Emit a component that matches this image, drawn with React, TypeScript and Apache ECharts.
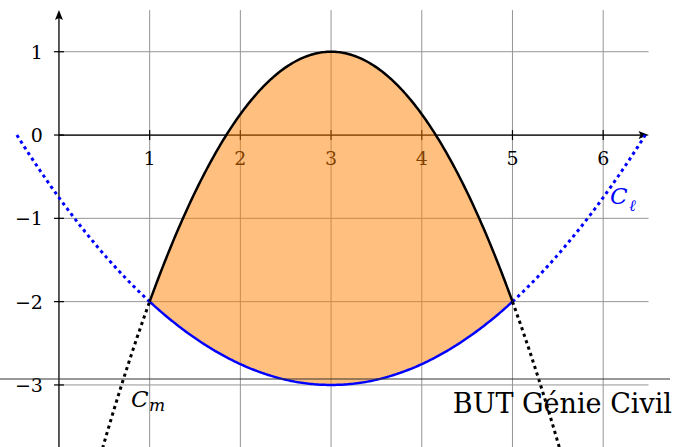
import React, { useEffect, useRef } from 'react';
import * as echarts from 'echarts';

// Visible window of the plane
const X_RANGE = [-0.65, 6.858];
const Y_RANGE = [-3.745, 1.621];

// Grid / ticks
const X_TICKS = [1, 2, 3, 4, 5, 6];
const X_LABELS = ['1', '2', '3', '4', '5', '6'];
const Y_TICKS = [1, 0, -1, -2, -3];
const Y_LABELS = ['1', '0', '−1', '−2', '−3'];
const AXIS_END = [6.5, 1.5];

// C_m : downward parabola given by its vertex and one point
const CM_VERTEX = [3, 1];
const CM_POINT = [1, -2];
// C_l : upward parabola given by its vertex and one point
const CL_VERTEX = [3, -3];
const CL_POINT = [1, -2];

// Domains
const SOLID_RANGE = [1, 5];
const CM_DOTTED_LEFT = [0.3, 1];
const CM_DOTTED_RIGHT = [5, 5.7];
const CL_DOTTED_LEFT = [3 - 2 * Math.sqrt(3), 1];
const CL_DOTTED_RIGHT = [5, 3 + 2 * Math.sqrt(3)];

const FONT = 'DejaVu Serif';

function parabola(vertex: number[], point: number[]) {
  const [h, k] = vertex;
  const a = (point[1] - k) / Math.pow(point[0] - h, 2);
  return (x: number) => a * Math.pow(x - h, 2) + k;
}

function sample(f: (x: number) => number, range: number[], step = 0.02) {
  const out: number[][] = [];
  const n = Math.max(1, Math.ceil((range[1] - range[0]) / step));
  for (let i = 0; i <= n; i++) {
    const x = range[0] + ((range[1] - range[0]) * i) / n;
    out.push([x, f(x)]);
  }
  return out;
}

const cm = parabola(CM_VERTEX, CM_POINT);
const cl = parabola(CL_VERTEX, CL_POINT);

function curve(data: number[][], color: string, dotted: boolean) {
  return {
    type: 'line',
    data,
    symbol: 'none',
    showSymbol: false,
    silent: true,
    z: 5,
    clip: true,
    lineStyle: {
      color,
      width: dotted ? 3 : 2.5,
      type: dotted ? [3.2, 3.6] : 'solid',
      cap: 'butt',
    },
  };
}

export default function App() {
  const ref = useRef<HTMLDivElement>(null);

  useEffect(() => {
    if (!ref.current) return;
    const chart = echarts.init(ref.current, null, { renderer: 'svg' });

    const gridColor = '#959595';

    const option: any = {
      animation: false,
      backgroundColor: '#ffffff',
      grid: { left: 0, right: 0, top: 0, bottom: 0 },
      xAxis: { type: 'value', min: X_RANGE[0], max: X_RANGE[1], show: false },
      yAxis: { type: 'value', min: Y_RANGE[0], max: Y_RANGE[1], show: false },
      series: [
        // vertical grid lines
        {
          type: 'custom',
          silent: true,
          z: 1,
          clip: false,
          data: X_TICKS.map((v) => [v, 0]),
          renderItem: (_p: any, api: any) => {
            const x = api.value(0);
            const a = api.coord([x, AXIS_END[1]]);
            const b = api.coord([x, Y_RANGE[0]]);
            return {
              type: 'line',
              shape: { x1: a[0], y1: a[1], x2: b[0], y2: b[1] },
              style: { stroke: gridColor, lineWidth: 1 },
            };
          },
        },
        // horizontal grid lines
        {
          type: 'custom',
          silent: true,
          z: 1,
          clip: false,
          data: Y_TICKS.map((v) => [0, v]),
          renderItem: (_p: any, api: any) => {
            const y = api.value(1);
            const a = api.coord([0, y]);
            const b = api.coord([AXIS_END[0], y]);
            return {
              type: 'line',
              shape: { x1: a[0], y1: a[1], x2: b[0], y2: b[1] },
              style: { stroke: gridColor, lineWidth: 1 },
            };
          },
        },
        // axes with arrow heads
        {
          type: 'custom',
          silent: true,
          z: 2,
          clip: false,
          data: [[0, 0]],
          renderItem: (_p: any, api: any) => {
            const o = api.coord([0, 0]);
            const xe = api.coord([AXIS_END[0], 0]);
            const yb = api.coord([0, Y_RANGE[0]]);
            const ye = api.coord([0, AXIS_END[1]]);
            const L = 10;
            const W = 4;
            return {
              type: 'group',
              children: [
                {
                  type: 'line',
                  shape: { x1: o[0], y1: o[1], x2: xe[0] - 4, y2: xe[1] },
                  style: { stroke: '#000', lineWidth: 1.3 },
                },
                {
                  type: 'polygon',
                  shape: {
                    points: [
                      [xe[0], xe[1]],
                      [xe[0] - L, xe[1] - W],
                      [xe[0] - L + 2, xe[1]],
                      [xe[0] - L, xe[1] + W],
                    ],
                  },
                  style: { fill: '#000' },
                },
                {
                  type: 'line',
                  shape: { x1: yb[0], y1: yb[1], x2: ye[0], y2: ye[1] + 4 },
                  style: { stroke: '#000', lineWidth: 1.3 },
                },
                {
                  type: 'polygon',
                  shape: {
                    points: [
                      [ye[0], ye[1]],
                      [ye[0] - W, ye[1] + L],
                      [ye[0], ye[1] + L - 2],
                      [ye[0] + W, ye[1] + L],
                    ],
                  },
                  style: { fill: '#000' },
                },
              ],
            };
          },
        },
        // x ticks and labels
        {
          type: 'custom',
          silent: true,
          z: 2,
          clip: false,
          data: X_TICKS.map((v, i) => [v, 0, i]),
          renderItem: (_p: any, api: any) => {
            const p = api.coord([api.value(0), 0]);
            const i = api.value(2);
            return {
              type: 'group',
              children: [
                {
                  type: 'line',
                  shape: { x1: p[0], y1: p[1] - 5, x2: p[0], y2: p[1] + 5 },
                  style: { stroke: '#000', lineWidth: 1.2 },
                },
                {
                  type: 'text',
                  x: p[0],
                  y: p[1] + 23,
                  style: {
                    text: X_LABELS[i],
                    fontFamily: FONT,
                    fontSize: 19,
                    fill: '#000',
                    align: 'center',
                    verticalAlign: 'middle',
                  },
                },
              ],
            };
          },
        },
        // y ticks and labels
        {
          type: 'custom',
          silent: true,
          z: 2,
          clip: false,
          data: Y_TICKS.map((v, i) => [0, v, i]),
          renderItem: (_p: any, api: any) => {
            const p = api.coord([0, api.value(1)]);
            const i = api.value(2);
            return {
              type: 'group',
              children: [
                {
                  type: 'line',
                  shape: { x1: p[0] - 5, y1: p[1], x2: p[0] + 5, y2: p[1] },
                  style: { stroke: '#000', lineWidth: 1.2 },
                },
                {
                  type: 'text',
                  x: p[0] - 16,
                  y: p[1],
                  style: {
                    text: Y_LABELS[i],
                    fontFamily: FONT,
                    fontSize: 19,
                    fill: '#000',
                    align: 'right',
                    verticalAlign: 'middle',
                  },
                },
              ],
            };
          },
        },
        // shaded region between the two curves
        {
          type: 'custom',
          silent: true,
          z: 3,
          clip: false,
          data: [[0, 0]],
          renderItem: (_p: any, api: any) => {
            const upper = sample(cm, SOLID_RANGE);
            const lower = sample(cl, SOLID_RANGE).reverse();
            const pts = upper.concat(lower).map((q) => api.coord(q));
            return {
              type: 'polygon',
              shape: { points: pts },
              style: { fill: 'rgba(255,128,0,0.5)' },
            };
          },
        },
        curve(sample(cl, CL_DOTTED_LEFT), '#0000ff', true),
        curve(sample(cl, CL_DOTTED_RIGHT), '#0000ff', true),
        curve(sample(cl, SOLID_RANGE), '#0000ff', false),
        curve(sample(cm, CM_DOTTED_LEFT), '#000000', true),
        curve(sample(cm, CM_DOTTED_RIGHT), '#000000', true),
        curve(sample(cm, SOLID_RANGE), '#000000', false),
      ],
      graphic: [
        {
          type: 'line',
          z: 10,
          shape: { x1: 0, y1: 379, x2: 670, y2: 379 },
          style: { stroke: '#333', lineWidth: 1 },
        },
        {
          type: 'text',
          z: 10,
          x: 672,
          y: 403,
          style: {
            text: 'BUT Génie Civil',
            fontFamily: FONT,
            fontSize: 27,
            fill: '#000',
            align: 'right',
            verticalAlign: 'middle',
          },
        },
        {
          type: 'text',
          z: 10,
          x: 131,
          y: 399,
          style: {
            text: 'C',
            fontFamily: FONT,
            fontStyle: 'italic',
            fontSize: 23,
            fill: '#000',
            align: 'left',
            verticalAlign: 'middle',
          },
        },
        {
          type: 'text',
          z: 10,
          x: 149,
          y: 405,
          style: {
            text: 'm',
            fontFamily: FONT,
            fontStyle: 'italic',
            fontSize: 17,
            fill: '#000',
            align: 'left',
            verticalAlign: 'middle',
          },
        },
        {
          type: 'text',
          z: 10,
          x: 610,
          y: 196,
          style: {
            text: 'C',
            fontFamily: FONT,
            fontStyle: 'italic',
            fontSize: 23,
            fill: '#0000ff',
            align: 'left',
            verticalAlign: 'middle',
          },
        },
        {
          type: 'text',
          z: 10,
          x: 629,
          y: 205,
          style: {
            text: 'ℓ',
            fontFamily: FONT,
            fontStyle: 'italic',
            fontSize: 16,
            fill: '#0000ff',
            align: 'left',
            verticalAlign: 'middle',
          },
        },
      ],
    };

    chart.setOption(option);
    return () => chart.dispose();
  }, []);

  return (
    <div
      ref={ref}
      style={{ position: 'fixed', left: 0, top: 0, width: 681, height: 447, background: '#fff' }}
    />
  );
}
